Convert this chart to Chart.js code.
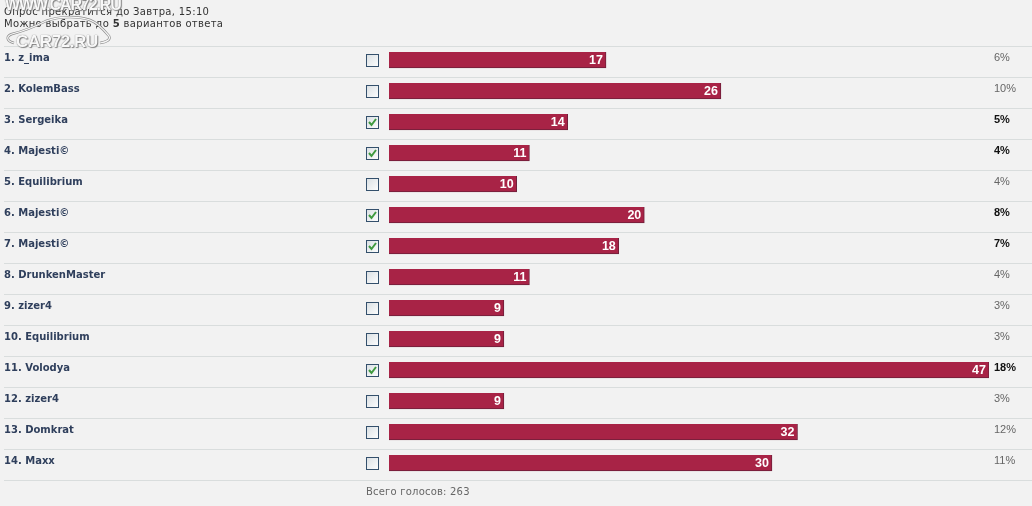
<!DOCTYPE html>
<html>
<head>
<meta charset="utf-8">
<script src="https://cdn.jsdelivr.net/npm/chart.js@4"></script>
<style>
  html, body { margin: 0; padding: 0; background: #f2f2f2; overflow: hidden; }
  #wrap { position: relative; width: 1032px; height: 506px; }
  canvas { position: absolute; left: 0; top: 0; }
  svg { position: absolute; left: 0; top: 0; }
  .note { position: absolute; font: 10px "DejaVu Sans", sans-serif; color: #333; white-space: nowrap; letter-spacing: 0.33px; }
  .mark { position: absolute; font: bold 16px "Liberation Sans", sans-serif; color: #f8f8f8; white-space: nowrap;
    text-shadow: 0 0 1px #555, 1px 1px 1px #888; }
</style>
</head>
<body>
<div id="wrap">
  <canvas id="poll" width="1032" height="506"></canvas>
  <div class="note" style="left:4px;top:6px">Опрос прекратится до Завтра, 15:10</div>
  <div class="note" style="left:4px;top:18px">Можно выбрать до <b>5</b> вариантов ответа</div>
  <svg width="130" height="55">
    <path d="M14 43 C6 41 6 36 12 34 C24 31 34 27 46 21 C60 16 78 16 90 20 C98 23 104 30 109 36 C111 40 106 42 100 43" fill="none" stroke="#8c8c8c" stroke-width="2.5"/>
    <path d="M14 43 C6 41 6 36 12 34 C24 31 34 27 46 21 C60 16 78 16 90 20 C98 23 104 30 109 36 C111 40 106 42 100 43" fill="none" stroke="#f8f8f8" stroke-width="1.2"/>
  </svg>
  <div class="mark" style="left:5px;top:-4px;letter-spacing:-1.1px">WWW.CAR72.RU</div>
  <div class="mark" style="left:16px;top:32px;font-size:17px;letter-spacing:-0.4px">CAR72.RU</div>
  <div class="note" style="left:366px;top:486px;color:#666;letter-spacing:0.2px">Всего голосов: 263</div>
</div>
<script>
const names = ['1. z_ima', '2. KolemBass', '3. Sergeika', '4. Majesti©', '5. Equilibrium', '6. Majesti©', '7. Majesti©',
  '8. DrunkenMaster', '9. zizer4', '10. Equilibrium', '11. Volodya', '12. zizer4', '13. Domkrat', '14. Maxx'];
const votes = [17, 26, 14, 11, 10, 20, 18, 11, 9, 9, 47, 9, 32, 30];
const percents = ['6%', '10%', '5%', '4%', '4%', '8%', '7%', '4%', '3%', '3%', '18%', '3%', '12%', '11%'];
const checked = [false, false, true, true, false, true, true, false, false, false, true, false, false, false];

// separators, names, checkboxes, vote counts and percents, all placed from the scales
const rowExtras = {
  id: 'rowExtras',
  beforeDatasetsDraw(chart) {
    const ctx = chart.ctx, y = chart.scales.y;
    ctx.save();
    ctx.strokeStyle = '#d9dddd';
    ctx.lineWidth = 1;
    for (let i = 0; i <= names.length; i++) {
      const py = Math.round(y.getPixelForValue(0) - 14 + i * 31) + 0.5;
      ctx.beginPath();
      ctx.moveTo(4, py);
      ctx.lineTo(1032, py);
      ctx.stroke();
    }
    ctx.restore();
  },
  afterDatasetsDraw(chart) {
    const ctx = chart.ctx, x = chart.scales.x, y = chart.scales.y;
    ctx.save();
    ctx.textBaseline = 'middle';
    votes.forEach((v, i) => {
      const py = y.getPixelForValue(i);
      const px = x.getPixelForValue(v);

      // row name, sits a little above the bar centre
      ctx.textAlign = 'left';
      ctx.fillStyle = '#2f3f5c';
      ctx.font = 'bold 10px "DejaVu Sans", sans-serif';
      ctx.fillText(names[i], 4, py - 2);

      // checkbox
      const top = Math.round(py) - 6;
      const grad = ctx.createLinearGradient(366, top, 379, top + 13);
      grad.addColorStop(0, '#d8dee2');
      grad.addColorStop(1, '#ffffff');
      ctx.fillStyle = grad;
      ctx.fillRect(366, top, 13, 13);
      ctx.strokeStyle = '#34506c';
      ctx.lineWidth = 1;
      ctx.strokeRect(366.5, top + 0.5, 12, 12);
      if (checked[i]) {
        ctx.strokeStyle = '#3f9a3f';
        ctx.lineWidth = 2;
        ctx.beginPath();
        ctx.moveTo(369, top + 6);
        ctx.lineTo(371.5, top + 9);
        ctx.lineTo(376, top + 3);
        ctx.stroke();
      }

      // vote count inside the bar
      ctx.fillStyle = '#ffffff';
      ctx.font = 'bold 12.5px "Liberation Sans", sans-serif';
      ctx.textAlign = 'right';
      ctx.fillText(String(v), px - 3, py + 0.5);

      // percent on the right
      ctx.textAlign = 'left';
      ctx.fillStyle = checked[i] ? '#111111' : '#666666';
      ctx.font = (checked[i] ? 'bold ' : '') + '11px "Liberation Sans", sans-serif';
      ctx.fillText(percents[i], 994, py - 2);
    });
    ctx.restore();
  }
};

new Chart(document.getElementById('poll'), {
  type: 'bar',
  data: {
    labels: names,
    datasets: [{
      data: votes,
      backgroundColor: '#a82346',
      borderColor: '#6e1f3a',
      borderWidth: { bottom: 1, right: 1 },
      borderSkipped: false,
      barThickness: 16
    }]
  },
  plugins: [rowExtras],
  options: {
    indexAxis: 'y',
    responsive: false,
    animation: false,
    devicePixelRatio: 1,
    layout: { padding: { left: 4, right: 43, top: 44.5, bottom: 27.5 } },
    plugins: { legend: { display: false }, tooltip: { enabled: false } },
    scales: {
      x: { display: false, min: 0, max: 47 },
      y: {
        grid: { display: false },
        border: { display: false },
        ticks: { display: false },
        afterFit(scale) { scale.width = 385; }
      }
    }
  }
});
</script>
</body>
</html>
